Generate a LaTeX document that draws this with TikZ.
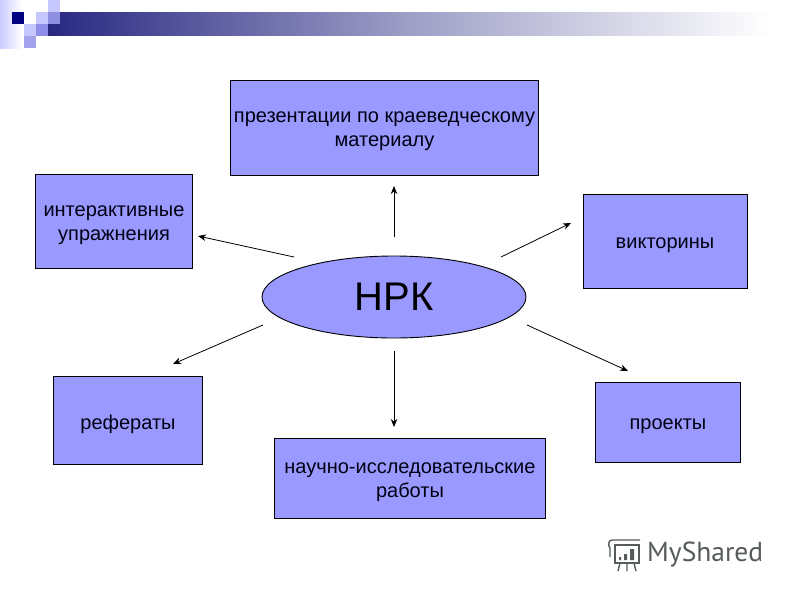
\documentclass[tikz,border=0pt]{standalone}
\usepackage{fontspec}
\setmainfont{Liberation Sans}
\newfontfamily\logofont{PT Sans}
\usetikzlibrary{shapes.geometric,arrows.meta}
\definecolor{boxfill}{RGB}{153,153,255}
\definecolor{navy}{RGB}{0,0,128}
\definecolor{bandA}{RGB}{40,40,130}
\definecolor{logogray}{RGB}{85,92,90}
\tikzset{
  x=1pt,y=-1pt,
  topic/.style={draw=black,line width=0.9pt,fill=boxfill,inner sep=0pt},
  topictext/.style={align=center,text=black!85!navy,font=\fontsize{20}{24}\selectfont,inner sep=0pt,yshift=-4pt},
  hub/.style={ellipse,draw=black,line width=0.9pt,fill=boxfill,minimum width=264pt,minimum height=82pt,inner sep=0pt,font=\fontsize{40}{44}\selectfont,text=black},
  link/.style={draw=black,line width=0.8pt,-{Stealth[length=8pt,width=6.5pt]}},
  pale/.style={fill=boxfill!55!white}
}
\begin{document}
\begin{tikzpicture}
\useasboundingbox (0,0) rectangle (800,600);
\fill[white] (0,0) rectangle (800,600);
% slide decoration
\shade[left color=boxfill!50!white,right color=white] (0,0) rectangle (22,48);
\fill[white] (22,0) rectangle (48,12);
\shade[left color=bandA,right color=white,middle color=bandA!45!white] (48,12) rectangle (770,35);
\fill[pale] (48,0) rectangle (60,12);
\fill[pale] (36,12) rectangle (48,24);
\fill[boxfill!70!navy!75!white] (48,12) rectangle (60,24);
\fill[navy] (12,12) rectangle (24,24);
\fill[pale] (24,24) rectangle (36,36);
\fill[boxfill!80!navy!85!white] (36,24) rectangle (48,36);
\fill[boxfill!80!navy!70!white] (24,36) rectangle (36,48);
% nodes
\node[topic,minimum width=308pt,minimum height=95pt,label={[topictext]center:{презентации по краеведческому\\материалу}}] (pres) at (384.5,127.5) {};
\node[topic,minimum width=157pt,minimum height=94pt,label={[topictext]center:{интерактивные\\упражнения}}] (inter) at (114,221.5) {};
\node[topic,minimum width=164pt,minimum height=94pt,label={[topictext]center:{викторины}}] (quiz) at (665,241) {};
\node[topic,minimum width=149pt,minimum height=88pt,label={[topictext]center:{рефераты}}] (ref) at (128,420) {};
\node[topic,minimum width=145pt,minimum height=80pt,label={[topictext]center:{проекты}}] (proj) at (668,422) {};
\node[topic,minimum width=271pt,minimum height=80pt,label={[topictext]center:{научно-исследовательские\\работы}}] (sci) at (410,478.5) {};
\node[hub] (nrk) at (394,297) {НРК};
% arrow tails, clear of the hub
\coordinate (tpres) at (394,237);
\coordinate (tinter) at (294,257);
\coordinate (tquiz) at (501,257);
\coordinate (tref) at (263,325);
\coordinate (tproj) at (527,325);
\coordinate (tsci) at (394,351);
\coordinate (hpres) at (394,186);
\coordinate (hinter) at (198,236);
\coordinate (hquiz) at (571,223);
\coordinate (href) at (173,364);
\coordinate (hproj) at (628,371);
\coordinate (hsci) at (394,427);
\draw[link] (tpres) -- (hpres);
\draw[link] (tinter) -- (hinter);
\draw[link] (tquiz) -- (hquiz);
\draw[link] (tref) -- (href);
\draw[link] (tproj) -- (hproj);
\draw[link] (tsci) -- (hsci);
% logo
\begin{scope}[draw=logogray,line width=1.4pt]
\draw (612,540) -- (640,540) (612,540) .. controls (608,540) and (608,546) .. (610,548) -- (610,557);
\draw (615,545) rectangle (639,563);
\draw (620,563) -- (618,571) (627,563) -- (627,571) (634,563) -- (636,571);
\fill[logogray] (619,557) rectangle (621,560) (624,554) rectangle (627,560) (630,549) rectangle (634,560);
\end{scope}
\node[anchor=west,inner sep=0pt,text=logogray,font=\logofont\fontsize{27.5}{30}\selectfont] (logo) at (647,555) {MyShared};
\end{tikzpicture}
\end{document}
